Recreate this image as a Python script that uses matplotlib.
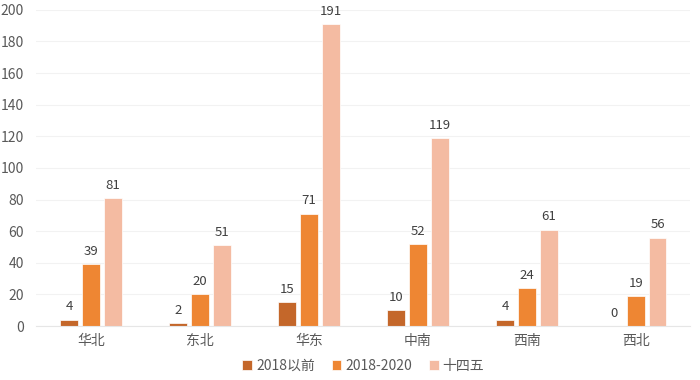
#!/usr/bin/env python3

'''Grouped bar chart of counts by region for three periods.'''

import numpy as np
import matplotlib.pyplot as plt

regions = ['华北', '东北', '华东', '中南', '西南', '西北']
series_names = ['2018以前', '2018-2020', '十四五']
before_2018 = [4, 2, 15, 10, 4, 0]
y2018_2020 = [39, 20, 71, 52, 24, 19]
fyp14 = [81, 51, 191, 119, 61, 56]
colors = ['#C4672A', '#EE8633', '#F4BBA2']

plt.rcParams['font.family'] = ['Noto Sans CJK SC', 'DejaVu Sans']


def main():
    fig = plt.figure(figsize=(7, 3.8), dpi=100)
    ax = fig.add_axes([0.052, 0.142, 0.934, 0.832])

    x = np.arange(len(regions))
    width = 0.165
    step = 0.2
    for i, (vals, name, c) in enumerate(zip([before_2018, y2018_2020, fyp14],
                                            series_names, colors)):
        bars = ax.bar(x + (i - 1) * step, vals, width, color=c, label=name,
                      edgecolor='white', linewidth=0.5, zorder=2)
        for b, v in zip(bars, vals):
            ax.text(b.get_x() + b.get_width() / 2, v + 4, str(v),
                    ha='center', va='bottom', fontsize=9.5, color='#404040')

    ax.set_xlim(-0.5, len(regions) - 0.5)
    ax.set_ylim(0, 200)
    ax.set_yticks(range(0, 201, 20))
    ax.set_xticks(x)
    ax.set_xticklabels(regions)
    ax.yaxis.grid(True, color='#F2F2F2', linewidth=0.8, zorder=0)
    ax.set_axisbelow(True)
    for s in ['top', 'right', 'left']:
        ax.spines[s].set_visible(False)
    ax.spines['bottom'].set_color('#E6E6E6')
    ax.tick_params(axis='both', length=0, labelsize=10, colors='#595959')
    ax.tick_params(axis='x', pad=6)
    ax.tick_params(axis='y', pad=9)

    ax.legend(loc='center', bbox_to_anchor=(0.5, -0.125), ncol=3,
              frameon=False, fontsize=10, handlelength=0.7, handleheight=0.7,
              handletextpad=0.3, columnspacing=1.2, labelcolor='#595959',
              borderpad=0)

    fig.savefig('out.png', dpi=100)
    plt.close(fig)


if __name__ == '__main__':
    main()
